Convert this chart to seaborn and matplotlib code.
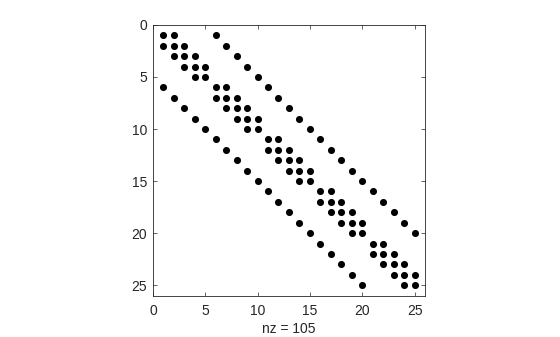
import matplotlib
matplotlib.use("Agg")
import matplotlib.pyplot as plt
import seaborn as sns
import pandas as pd

# nonzero column indices for each row (1-based) of the 25x25 sparse matrix
row_nonzeros = [
    [1, 2, 6],
    [1, 2, 3, 7],
    [2, 3, 4, 8],
    [3, 4, 5, 9],
    [4, 5, 10],
    [1, 6, 7, 11],
    [2, 6, 7, 8, 12],
    [3, 7, 8, 9, 13],
    [4, 8, 9, 10, 14],
    [5, 9, 10, 15],
    [6, 11, 12, 16],
    [7, 11, 12, 13, 17],
    [8, 12, 13, 14, 18],
    [9, 13, 14, 15, 19],
    [10, 14, 15, 20],
    [11, 16, 17, 21],
    [12, 16, 17, 18, 22],
    [13, 17, 18, 19, 23],
    [14, 18, 19, 20, 24],
    [15, 19, 20, 25],
    [16, 21, 22],
    [17, 21, 22, 23],
    [18, 22, 23, 24],
    [19, 23, 24, 25],
    [20, 24, 25],
]
ticks = [0, 5, 10, 15, 20, 25]
n_size = 25

rows, cols = [], []
for r, cs in enumerate(row_nonzeros, start=1):
    for c in cs:
        rows.append(r)
        cols.append(c)
df = pd.DataFrame({"row": rows, "col": cols})
nz = len(df)

sns.set_style("white")
plt.rcParams["font.family"] = ["Liberation Sans", "DejaVu Sans"]

fig = plt.figure(figsize=(5.6, 3.37), dpi=100)
ax = fig.add_axes([0.273, 0.123, 0.486, 0.803])
sns.scatterplot(data=df, x="col", y="row", ax=ax, color="black", s=26,
                edgecolor="black", linewidth=0, legend=False)
ax.set_xlim(0, n_size + 1)
ax.set_ylim(n_size + 1, 0)
ax.set_xticks(ticks)
ax.set_yticks(ticks)
ax.tick_params(direction="in", length=3, width=0.5, labelsize=10,
               top=True, right=True, left=True, bottom=True,
               colors="#262626", labelcolor="#262626")
ax.tick_params(axis="x", pad=6)
ax.tick_params(axis="y", pad=4)
for sp in ax.spines.values():
    sp.set_visible(True)
    sp.set_color("#262626")
    sp.set_linewidth(0.6)
ax.set_xlabel(f"nz = {nz}", fontsize=10, color="#262626", labelpad=3)
ax.set_ylabel("")
fig.savefig("out.png", dpi=100)
